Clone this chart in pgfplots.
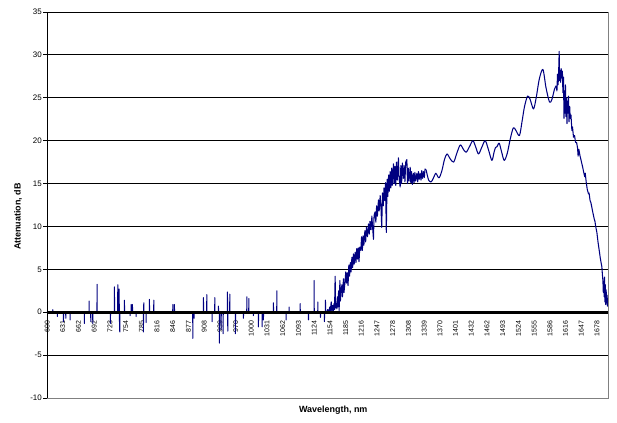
\documentclass[border=0pt]{standalone}
\usepackage{pgfplots}
\pgfplotsset{compat=1.18}
\usepackage{fontspec}
\setmainfont{Liberation Sans}
\definecolor{navy}{RGB}{0,0,128}
\definecolor{frame}{RGB}{128,128,128}
\pgfplotsset{spectrum/.style={navy, line width=1.05bp, line join=round, mark=none}}

\begin{document}
\begin{tikzpicture}
\begin{axis}[
  scale only axis, width=561.3bp, height=386bp,
  xmin=599.8, xmax=1700.2, ymin=-10, ymax=35,
  axis x line=middle, axis y line=left,
  x axis line style={draw=none},
  y axis line style={black, line width=0.8bp, -},
  clip=false,
  ytick={-10,-5,...,35},
  xtick={600,630.8,661.6,692.4,723.2,754,784.8,815.6,846.4,877.2,908,938.8,969.6,1000.4,1031.2,1062,1092.8,1123.6,1154.4,1185.2,1216,1246.8,1277.6,1308.4,1339.2,1370,1400.8,1431.6,1462.4,1493.2,1524,1554.8,1585.6,1616.4,1647.2,1678},
  xticklabels={600,631,662,692,723,754,785,816,846,877,908,939,970,1000,1031,1062,1093,1124,1154,1185,1216,1247,1278,1308,1339,1370,1401,1432,1462,1493,1524,1555,1586,1616,1647,1678},
  xtick style={draw=none},
  ytick style={black, line width=0.8bp},
  tick align=outside, major tick length=3.5bp,
  ymajorgrids, grid style={black, line width=0.8bp},
  xticklabel style={rotate=90, anchor=east, font=\fontsize{7}{8}\selectfont, inner sep=1bp},
  xticklabel shift=4bp,
  yticklabel style={font=\fontsize{8}{9}\selectfont, inner sep=1.5bp},
  /pgf/number format/assume math mode=true,
]
% flat region with isolated noise spikes, then the noisy rising edge
\addplot[spectrum] coordinates {
(599.8,0)(611.0,0)(611.2,0.3)(611.4,0)
(620.0,0)(620.2,-0.5)(620.4,0)
(631.8,0)(632.0,-1.1)(632.3,0)
(636.5,0)(636.7,-0.7)(636.9,0)
(644.9,0)(645.1,-0.9)(645.3,0)
(672.9,0)(673.1,-1.3)(673.3,0)
(682.2,0)(682.4,1.3)(682.6,0)
(685.5,0)(685.7,-1.1)(685.9,0)
(689.4,0)(689.6,-1.3)(689.8,0)
(697.8,0)(698.0,3.25)(698.2,0)
(723.9,0)(724.1,-1.3)(724.3,0)
(731.8,0)(732.0,2.95)(732.2,0)
(738.4,0)(738.6,3.2)(738.8,0)
(741.0,0)(741.2,2.7)(741.5,0)(742.5,-2.3)(742.8,0)
(751.4,0)(751.6,1.4)(751.8,0)
(762.5,0)(762.7,-0.4)(763.0,0)
(764.5,0)(764.7,0.9)(765.0,0)
(767.1,0)(767.3,0.9)(767.5,0)
(774.3,0)(774.5,-0.5)(774.7,0)
(788.6,0)(788.8,-2.3)(789.1,0)(789.6,1.1)(789.9,0)
(793.9,0)(794.1,-1.2)(794.3,0)
(800.4,0)(800.6,1.5)(800.8,0)
(809.0,0)(809.2,1.4)(809.4,0)
(846.3,0)(846.5,0.9)(846.7,0)
(849.4,0)(849.6,0.9)(849.8,0)
(885.5,0)(885.7,-3.05)(885.9,0)
(888.0,0)(888.2,-0.7)(888.4,0)
(906.3,0)(906.5,1.7)(906.7,0)
(912.9,0)(913.1,2.05)(913.3,0)
(923.3,0)(923.5,-1.1)(923.7,0)
(928.6,0)(928.8,1.7)(929.0,0)
(935.7,0)(935.9,0.7)(936.1,0)
(937.6,0)(937.8,-3.6)(938.0,0)
(941.0,0)(941.2,-2.0)(941.4,0)
(944.9,0)(945.1,-2.5)(945.3,0)
(953.3,0)(953.5,2.36)(953.9,0)(954.3,-2.2)(954.5,0)
(958.0,0)(958.2,2.1)(958.4,0)
(969.0,0)(969.2,-2.5)(969.4,0)
(984.7,0)(984.9,-0.7)(985.1,0)
(991.4,0)(991.6,1.8)(991.8,0)
(995.3,0)(995.5,1.6)(995.7,0)
(1004.3,0)(1004.5,-0.4)(1004.7,0)
(1014.1,0)(1014.3,-1.7)(1014.5,0)
(1021.4,0)(1021.6,-1.7)(1021.8,0)
(1023.9,0)(1024.1,-0.9)(1024.3,0)
(1043.5,0)(1043.7,1.1)(1043.9,0)
(1050.2,0)(1050.4,2.5)(1050.6,0)
(1068.4,0)(1068.6,-0.9)(1068.8,0)
(1074.3,0)(1074.5,0.6)(1074.7,0)
(1095.9,0)(1096.1,1.0)(1096.3,0)
(1112.2,0)(1112.4,-0.9)(1112.6,0)
(1123.3,0)(1123.5,3.7)(1123.7,0)
(1130.6,0)(1130.8,1.2)(1131.0,0)
(1135.7,0)(1135.9,-0.6)(1136.1,0)
(1143.5,0)(1143.7,-1.1)(1143.9,0)
(1145.5,0)(1145.7,1.4)(1145.9,0)
(1148,0)(1150,0.3)(1152,0)(1154,0.6)(1155,0.1)(1157,1.2)(1158,0.2)(1160,0.8)
(1161,0)(1162.5,1.0)(1163.5,0.3)(1164.7,4.2)(1165.5,0.5)(1167,1.0)(1168,0.4)
(1169,1.8)(1170,0.6)(1171.5,2.5)(1172.5,0.2)(1174,3.7)(1175,1.3)(1176.5,2.6)
(1178,3.2)(1179,1.8)(1181,3.9)(1182,2.3)(1184,3.5)(1185.5,4.7)(1187,3.4)
(1188.5,4.6)(1190,3.1)(1191.5,5.5)(1193,4.2)(1194.5,5.8)(1196,4.7)(1197.5,6.4)
(1199,5.2)(1200.5,6.8)(1202,5.6)(1204,7.0)(1205.5,5.8)(1207,7.4)(1208.5,6.2)
(1210,7.5)(1211.5,5.9)(1213,7.6)(1215,7.2)(1216.5,8.8)(1218,7.2)(1219.5,8.9)
(1221,7.8)(1223,9.5)(1224.5,8.2)(1226,9.9)(1228,8.8)(1230,10.3)(1231.5,9.1)
(1233,10.6)(1235,9.6)(1236.7,11.2)(1238,10.0)(1239.8,8.5)(1241,11.3)(1243,11.7)
(1244.5,10.5)(1246,12.4)(1247.5,11.2)(1249.6,13.1)(1251,11.8)(1253,13.6)
(1254.5,12.2)(1256,9.9)(1257.5,13.9)(1259,12.4)(1260.5,14.5)(1262,13.0)
(1263.5,15.1)(1265,9.3)(1266.5,15.5)(1268,13.5)(1269.5,16.0)(1271,14.1)
(1272.5,16.4)(1274,14.5)(1275.5,16.8)(1277,14.8)(1279,17.3)(1280.5,15.0)
(1282,17.0)(1283.5,14.8)(1285,17.5)(1286.5,15.4)(1288.8,18.0)(1290,15.6)
(1292.2,14.6)(1293.5,17.1)(1295,15.0)(1296.5,17.4)(1298.6,15.6)(1300,17.1)
(1301.5,15.2)(1303,17.5)(1305.3,17.8)(1306.5,15.0)(1308,16.8)(1309.5,15.3)
(1311.8,16.9)(1313,15.1)(1314.5,16.4)(1316,14.9)(1318.2,16.2)(1319.5,15.1)
(1321,16.3)(1322.5,15.3)(1324.9,16.2)(1326.5,15.2)(1328,16.4)(1329.5,15.5)
(1331.4,16.2)(1333,15.4)(1334.5,16.5)(1336,15.6)(1337.8,16.4)(1339.5,15.7)
(1341,16.7)(1343,16.6)
};
% smooth interference ripple
\addplot[spectrum, smooth, tension=0.5] coordinates {
(1343,16.6)(1348,15.4)(1353,15.2)(1357,15.6)(1362,16.2)(1366,15.8)(1369,15.7)
(1374,16.5)(1379,17.8)(1384,18.45)(1390,17.9)(1397,17.5)(1403,18.5)(1410,19.5)
(1416,19.0)(1421.5,18.65)(1428,19.3)(1434.7,20.0)(1440,19.3)(1445.7,18.45)
(1452,19.2)(1458.8,20.0)(1465,19.0)(1471.9,17.7)(1476,18.6)(1479,19.2)(1482,19.3)
(1486.3,19.7)(1491,18.7)(1496.1,17.7)(1502,18.5)(1508,20.2)(1514,21.5)(1519,21.2)
(1526,20.6)(1531,22.2)(1536,24.0)(1542,25.2)(1547,24.8)(1553.5,23.7)(1558.8,25.0)
(1565,27.2)(1572,28.3)(1578,26.2)(1584.9,24.5)(1589.6,24.8)(1594.7,26.0)(1598,26.4)
};
% noisy peak and falling edge
\addplot[spectrum] coordinates {
(1598,26.4)(1599.5,25.8)(1600.6,27.75)(1601.5,26.5)(1602.5,27.2)(1603.9,30.4)
(1604.8,27.0)(1605.8,28.2)(1606.8,26.8)(1607.8,28.4)(1609.2,27.3)(1610.2,28.1)
(1611.2,25.6)(1612.4,27.4)(1613.3,22.6)(1614.2,25.8)(1615.2,23.2)(1616.2,26.5)
(1617.2,22.8)(1618.2,25.0)(1619.2,22.0)(1620.2,24.6)(1621.2,23.2)(1622.2,25.2)
(1623.2,22.2)(1624.5,24.0)(1625.5,22.6)(1627,23.0)(1628.8,21.2)(1630,21.6)
(1632,20.4)(1634,20.6)(1636,19.8)(1638,19.8)(1639.8,19.2)(1641,18.2)(1642.5,19.0)
(1644.5,18.3)(1646.5,17.8)(1648.4,17.3)(1650,16.9)(1652,16.3)(1654,15.8)(1655,16.2)
(1656.9,15.15)(1659,14.3)(1661.4,13.8)(1662.5,13.9)(1664.5,13.0)(1666,12.8)
(1668,12.2)(1670,11.6)(1672.5,10.9)(1674,10.6)(1675.5,10.0)(1677.8,9.3)(1680,8.2)
(1682.9,7.0)(1684.5,6.3)(1686,5.8)(1687.6,5.3)(1688.6,4.4)(1689.6,3.7)(1690.4,2.3)
(1691.2,3.6)(1692,1.8)(1692.8,4.1)(1693.6,1.2)(1694.4,3.2)(1695.2,0.9)(1696,2.6)
(1696.8,1.1)(1697.6,2.0)(1698.4,0.7)(1699.2,1.6)(1700,0.9)
};
% plot-area frame, zero axis and titles
\draw[frame, line width=0.8bp] (rel axis cs:0,0) -- (rel axis cs:1,0) -- (rel axis cs:1,1);
\draw[black, line width=3.2bp] (axis cs:599.8,0) -- (axis cs:1700.2,0);
\node[font=\fontsize{9}{11}\selectfont\bfseries, anchor=center]
  at ([yshift=-12bp]axis description cs:0.51,0) {Wavelength, nm};
\node[font=\fontsize{9}{11}\selectfont\bfseries, anchor=center, rotate=90]
  at ([xshift=-29bp]axis description cs:0,0.47) {Attenuation, dB};
\end{axis}
\pgfresetboundingbox
\path[use as bounding box] ([shift={(-47bp,-25bp)}]current axis.south west) rectangle ([shift={(8.7bp,12bp)}]current axis.north east);
\end{tikzpicture}
\end{document}
